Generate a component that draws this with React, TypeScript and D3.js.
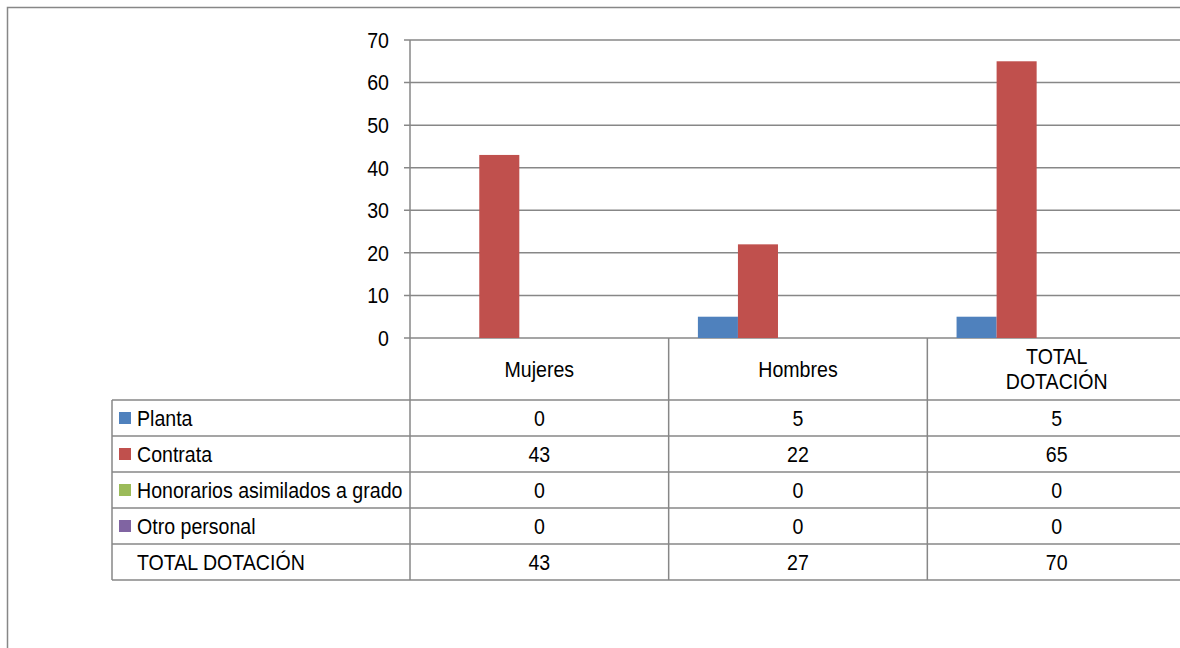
import React, { useEffect, useRef } from "react";
import * as d3 from "d3";

// categories (x axis) and series
const categories = ["Mujeres", "Hombres", "TOTAL DOTACIÓN"];
const seriesNames = ["Planta", "Contrata", "Honorarios asimilados a grado", "Otro personal", "TOTAL DOTACIÓN"];
const planta = [0, 5, 5];
const contrata = [43, 22, 65];
const honorarios = [0, 0, 0];
const otroPersonal = [0, 0, 0];
const totalDotacion = [43, 27, 70];
const seriesColors = ["#4F81BD", "#C0504D", "#9BBB59", "#8064A2", "none"];
const yTicks = [0, 10, 20, 30, 40, 50, 60, 70];

const FONT = "'Liberation Sans', Arial, sans-serif";
const FONT_SIZE = 22;
const NARROW = 0.89; // source font is a narrow Arial

export default function App() {
  const svgRef = useRef<SVGSVGElement>(null);

  useEffect(() => {
    const svg = d3.select(svgRef.current);
    svg.selectAll("*").remove();

    const width = 1180;
    const height = 648;
    const lineColor = "#878787";
    const values = [planta, contrata, honorarios, otroPersonal, totalDotacion];

    //narrow text helper
    const label = (parent: any, x: number, y: number, txt: string | number, anchor = "start") =>
      parent.append("text")
        .attr("transform", `translate(${x},${y}) scale(${NARROW},1)`)
        .attr("dy", "0.36em")
        .attr("text-anchor", anchor)
        .attr("font-family", FONT).attr("font-size", FONT_SIZE).attr("fill", "#000")
        .text(txt);

    //chart frame
    svg.append("rect")
      .attr("x", 7.5).attr("y", 7.5)
      .attr("width", width + 20).attr("height", height + 20)
      .attr("fill", "#fff").attr("stroke", lineColor).attr("stroke-width", 1.5);

    //scales
    const x0 = d3.scaleBand().domain(categories).range([410, 1186]).paddingInner(0).paddingOuter(0);
    const x1 = d3.scaleBand().domain(seriesNames).range([0, x0.bandwidth()]).paddingInner(0).paddingOuter(0.73);
    const y = d3.scaleLinear().domain([0, 70]).range([338, 40]);

    //gridlines
    svg.append("g").selectAll("line").data(yTicks).join("line")
      .attr("x1", 404).attr("x2", width + 20)
      .attr("y1", (d) => y(d)).attr("y2", (d) => y(d))
      .attr("stroke", lineColor).attr("stroke-width", 1.5);

    //tick labels
    const ticksG = svg.append("g");
    yTicks.forEach((t) => label(ticksG, 389, y(t), t, "end"));

    //bars
    seriesNames.forEach((s, i) => {
      if (seriesColors[i] === "none") return;
      svg.append("g").selectAll("rect").data(values[i]).join("rect")
        .attr("x", (d, j) => (x0(categories[j]) as number) + (x1(s) as number))
        .attr("width", x1.bandwidth())
        .attr("y", (d) => y(d))
        .attr("height", (d) => y(0) - y(d))
        .attr("fill", seriesColors[i]);
    });

    //data table
    const rowTop = 400;
    const rowH = 36;
    const tableLeft = 112;
    const tableRight = width + 20;
    const tableBottom = rowTop + rowH * seriesNames.length;
    const g = svg.append("g");

    //horizontal rules
    d3.range(seriesNames.length + 1).forEach((r) => {
      g.append("line")
        .attr("x1", tableLeft).attr("x2", tableRight)
        .attr("y1", rowTop + r * rowH).attr("y2", rowTop + r * rowH)
        .attr("stroke", lineColor).attr("stroke-width", 1.5);
    });
    //vertical rules
    g.append("line").attr("x1", tableLeft).attr("x2", tableLeft)
      .attr("y1", rowTop).attr("y2", tableBottom)
      .attr("stroke", lineColor).attr("stroke-width", 1.5);
    categories.forEach((c, j) => {
      const xx = x0(c) as number;
      g.append("line").attr("x1", xx).attr("x2", xx)
        .attr("y1", j === 0 ? 40 : y(0)).attr("y2", tableBottom)
        .attr("stroke", lineColor).attr("stroke-width", 1.5);
    });

    //category header labels
    categories.forEach((c) => {
      const cx = (x0(c) as number) + x0.bandwidth() / 2;
      if (c === "TOTAL DOTACIÓN") {
        label(g, cx, 356, "TOTAL", "middle");
        label(g, cx, 381, "DOTACIÓN", "middle");
      } else {
        label(g, cx, 369, c, "middle");
      }
    });

    //row labels, swatches and values
    seriesNames.forEach((s, i) => {
      const cy = rowTop + i * rowH + rowH / 2;
      if (seriesColors[i] !== "none") {
        g.append("rect")
          .attr("x", 119).attr("y", cy - 6)
          .attr("width", 12).attr("height", 12)
          .attr("fill", seriesColors[i]);
      }
      label(g, 137, cy, s);
      values[i].forEach((v, j) => {
        label(g, (x0(categories[j]) as number) + x0.bandwidth() / 2, cy, v, "middle");
      });
    });
  }, []);

  return (
    <svg ref={svgRef} width={1180} height={648}
      style={{ position: "absolute", left: 0, top: 0, background: "#fff" }} />
  );
}
